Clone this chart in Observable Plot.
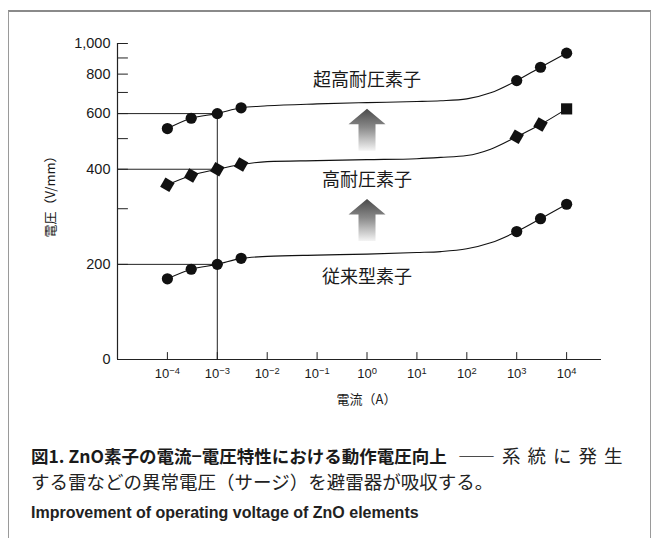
<!DOCTYPE html>
<html>
<head>
<meta charset="utf-8">
<script src="https://cdn.jsdelivr.net/npm/d3@7"></script>
<script src="https://cdn.jsdelivr.net/npm/@observablehq/plot@0.6"></script>
<style>
  html, body { margin: 0; padding: 0; background: #fff; }
  body { width: 652px; height: 538px; overflow: hidden; position: relative; }
  #box { position: absolute; left: 8px; top: 10px; width: 643px; height: 560px;
         border: 1px solid #9a9a9a; border-top: 2px solid #8a8a8a; box-sizing: border-box; }
  #chart { position: absolute; left: 0; top: 0; }
  .cap { position: absolute; left: 31px; white-space: nowrap; color: #1a1a1a; }
  #cap1 { top: 443px; font-family: "Noto Sans CJK JP", sans-serif; line-height: 25px; }
  #cap1 b { font-weight: 700; font-size: 17.5px; }
  #cap1 .r { font-weight: 400; font-size: 18.5px; color: #222; }
  #cap1 .sp { letter-spacing: 7px; }
  #cap2 { top: 503px; line-height: 20px; font-family: "Liberation Sans", Arial, sans-serif; font-size: 16px; font-weight: 700; color: #222; }
</style>
</head>
<body>
<div id="box"></div>
<div id="chart"></div>
<div class="cap" id="cap1"><b>図1. ZnO素子の電流−電圧特性における動作電圧向上</b><span class="r sp"> ――系統に発生</span><br><span class="r">する雷などの異常電圧（サージ）を避雷器が吸収する。</span></div>
<div class="cap" id="cap2">Improvement of operating voltage of ZnO elements</div>
<script>
// ---- data ----
const xMeasured = [1e-4, 3e-4, 1e-3, 3e-3, 1e3, 3e3, 1e4];       // current (A) of marked points
const xCurve    = [1e-2, 1e-1, 1e0, 1e1, 3e1, 1e2, 3e2];         // current (A) of points
const seriesNames = ["超高耐圧素子", "高耐圧素子", "従来型素子"];
const s1Measured = [538, 580, 600, 626, 763, 841, 932];           // V/mm
const s2Measured = [357, 382, 400, 414, 507, 554, 621];
const s3Measured = [180, 193, 200, 209, 254, 279, 310];
const s1Curve = [635, 644, 650, 655, 659, 668, 698];
const s2Curve = [423, 426, 429, 432, 436, 442, 463];
const s3Curve = [212, 214, 215.5, 218, 219.5, 224, 234];
const s1Markers = ["circle", "circle", "circle", "circle", "circle", "circle", "circle"];
const s2Markers = ["diamond", "diamond", "diamond", "diamond", "diamond", "diamond", "square"];
const s3Markers = ["circle", "circle", "circle", "circle", "circle", "circle", "circle"];
const labelVoltage = [767, 370, 182];          // label positions (V/mm) at 10^0 A
const labelCurrent = 1e0;
const arrowBaseVoltage = [458, 237];           // arrows at 10^0 A
const refLevels = [600, 400, 200];
const refCurrent = 1e-3;
const xTicks = [1e-4, 1e-3, 1e-2, 1e-1, 1e0, 1e1, 1e2, 1e3, 1e4];
const yTickValues = [100, 200, 400, 600, 800, 1000];
const yTickLabels = ["0", "200", "400", "600", "800", "1,000"];
const yMinorTicks = [300, 500, 700, 900];
const xDomain = [1e-5, 5e4];
const yDomain = [100, 1000];
const xTitle = "電流（A）";
const yTitle = "電圧（V/mm）";

// ---- tables ----
const measuredSets = [s1Measured, s2Measured, s3Measured];
const curveSets = [s1Curve, s2Curve, s3Curve];
const markerSets = [s1Markers, s2Markers, s3Markers];
const points = [];
const linePts = [];
measuredSets.forEach((vals, s) => {
  vals.forEach((v, i) => {
    points.push({series: seriesNames[s], current: xMeasured[i], voltage: v, marker: markerSets[s][i]});
    linePts.push({series: seriesNames[s], current: xMeasured[i], voltage: v});
  });
  curveSets[s].forEach((v, i) => linePts.push({series: seriesNames[s], current: xCurve[i], voltage: v}));
});
linePts.sort((a, b) => a.current - b.current);
const labels = seriesNames.map((n, i) => ({name: n, voltage: labelVoltage[i]}));

const lineShape = {draw(ctx, l) { ctx.moveTo(0, 0); ctx.lineTo(0, -l); }};
const blockArrow = {draw(ctx, l) {
  const hw = 18.5, sw = 8.5, hl = 15.5;
  ctx.moveTo(-sw, 0); ctx.lineTo(-sw, -(l - hl)); ctx.lineTo(-hw, -(l - hl));
  ctx.lineTo(0, -l); ctx.lineTo(hw, -(l - hl)); ctx.lineTo(sw, -(l - hl)); ctx.lineTo(sw, 0);
  ctx.closePath();
}};

const jp = "Noto Sans CJK JP, sans-serif";
const chart = Plot.plot({
  width: 652, height: 420,
  marginLeft: 117, marginRight: 51, marginTop: 43, marginBottom: 61,
  x: {type: "log", domain: xDomain},
  y: {type: "log", domain: yDomain},
  style: {fontFamily: "Liberation Sans, Arial, sans-serif", color: "#1a1a1a", background: "transparent"},
  marks: [
    Plot.ruleY(refLevels, {x1: xDomain[0], x2: refCurrent, stroke: "#222", strokeWidth: 1}),
    Plot.ruleX([refCurrent], {y1: yDomain[0], y2: refLevels[0], stroke: "#222", strokeWidth: 1}),
    Plot.ruleX([xDomain[0]], {y1: yDomain[0], y2: yDomain[1], stroke: "#222", strokeWidth: 1.2}),
    Plot.ruleY([yDomain[0]], {stroke: "#222", strokeWidth: 1.2}),
    Plot.vector(yTickValues.slice(1).concat(yMinorTicks), {x: () => xDomain[0], y: d => d, rotate: 90, length: 10, anchor: "start", shape: lineShape, stroke: "#222", strokeWidth: 1}),
    Plot.vector(xTicks, {x: d => d, y: () => yDomain[0], rotate: 0, length: 7, anchor: "start", shape: lineShape, stroke: "#222", strokeWidth: 1}),
    Plot.axisY(yTickValues, {tickSize: 0, tickPadding: 7, fontSize: 14.5, tickFormat: d => yTickLabels[yTickValues.indexOf(d)], label: null}),
    Plot.axisX(xTicks, {tickSize: 0, tickPadding: 9, fontSize: 13, tickFormat: d => "10^" + Math.round(Math.log10(d)), label: null}),
    Plot.text([yTitle], {text: d => d, frameAnchor: "left", textAnchor: "middle", lineAnchor: "middle", dx: -67, dy: -8, rotate: -90, fontSize: 13, fontFamily: jp}),
    Plot.text([xTitle], {text: d => d, frameAnchor: "bottom", textAnchor: "middle", lineAnchor: "middle", dx: 7, dy: 40, fontSize: 13, fontFamily: jp}),
    Plot.line(linePts, {x: "current", y: "voltage", z: "series", curve: "monotone-x", stroke: "#111", strokeWidth: 1.1}),
    Plot.dot(points.filter(d => d.marker === "circle"), {x: "current", y: "voltage", r: 5.6, symbol: "circle", fill: "#111", stroke: "none"}),
    Plot.dot(points.filter(d => d.marker === "diamond"), {x: "current", y: "voltage", r: 6, symbol: "square", rotate: 30, fill: "#111", stroke: "none"}),
    Plot.dot(points.filter(d => d.marker === "square"), {x: "current", y: "voltage", r: 6.3, symbol: "square", fill: "#111", stroke: "none"}),
    Plot.vector(arrowBaseVoltage, {x: () => labelCurrent, y: d => d, rotate: 0, length: 42, anchor: "start", shape: blockArrow, fill: "url(#arrowGrad)", stroke: "none"}),
    Plot.text(labels, {x: () => labelCurrent, y: "voltage", text: "name", fontSize: 18, fontFamily: jp, fill: "#1a1a1a"})
  ]
});

// gradient for the arrows
const ns = "http://www.w3.org/2000/svg";
const defs = document.createElementNS(ns, "defs");
const grad = document.createElementNS(ns, "linearGradient");
grad.setAttribute("id", "arrowGrad");
grad.setAttribute("x1", "0"); grad.setAttribute("y1", "0");
grad.setAttribute("x2", "0"); grad.setAttribute("y2", "1");
[["0", "#4a4a4a"], ["0.45", "#8a8a8a"], ["1", "#f4f4f4"]].forEach(([o, c]) => {
  const st = document.createElementNS(ns, "stop");
  st.setAttribute("offset", o); st.setAttribute("stop-color", c);
  grad.appendChild(st);
});
defs.appendChild(grad);
chart.insertBefore(defs, chart.firstChild);

// superscript exponents on x tick labels
chart.querySelectorAll('g[aria-label="x-axis tick label"] text').forEach(t => {
  const parts = t.textContent.split("^");
  if (parts.length !== 2) return;
  t.textContent = parts[0];
  const ts = document.createElementNS(ns, "tspan");
  ts.setAttribute("dy", "-0.45em");
  ts.setAttribute("font-size", "0.72em");
  ts.textContent = parts[1].replace("-", "−");
  t.appendChild(ts);
});

document.getElementById("chart").appendChild(chart);
</script>
</body>
</html>
